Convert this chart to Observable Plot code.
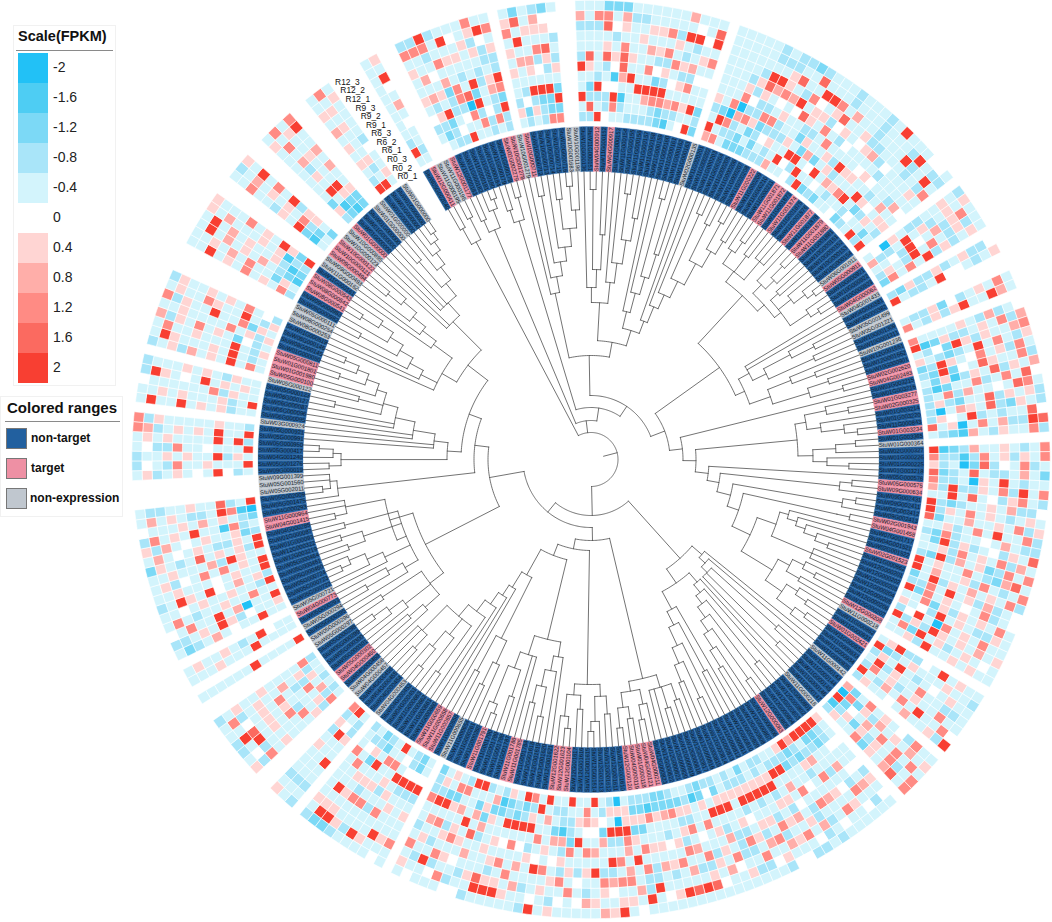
<!DOCTYPE html>
<html><head><meta charset="utf-8">
<script src="https://cdn.jsdelivr.net/npm/d3@7"></script>
<script src="https://cdn.jsdelivr.net/npm/@observablehq/plot@0.6"></script>
<style>
html,body{margin:0;padding:0;background:#fff;font-family:"Liberation Sans",Arial,sans-serif}
#wrap{position:relative;width:1052px;height:922px;overflow:hidden}
.box{position:absolute;background:#fff;border:1px solid #f1f1f1;box-sizing:border-box}
.t{position:absolute;font-weight:bold;color:#111;white-space:nowrap}
.ln{position:absolute;height:1px;background:#8a8a8a}
.sw{position:absolute}
</style></head><body><div id="wrap"></div>
<script>
const sampleLabels=["R0_1","R0_2","R0_3","R6_1","R6_2","R6_3","R9_1","R9_2","R9_3","R12_1","R12_2","R12_3"];
const scaleLevels=[-2,-1.6,-1.2,-0.8,-0.4,0,0.4,0.8,1.2,1.6,2];
const scaleColors=["#22c1f6","#4ecdf3","#7cd9f6","#a9e5f9","#d3f4fc","#ffffff","#ffd5d3","#ffaea9","#ff8b84","#fb6a60","#f83f32"];
const rangeNames=["non-target","target","non-expression"];
const rangeColors=["#22609f","#ee90a4","#c0c7cf"];
const levelCodes={a:-2,b:-1.6,c:-1.2,d:-0.8,e:-0.4,"0":0,"1":0.4,"2":0.8,"3":1.2,"4":1.6,"5":2};

// n=non-target, t=target, g=non-expression; clockwise from the sample labels
const leafTypes=["nt","gg","tnnnnnnntt","g","tnnnnn","gg","nntntnnnnnnnnnnn","g",
"nnnnnnnntnnnttntnntnttnnnnn","g","tnnnt","g","nn","gg","nn","g","nnnttnnttnnntn","g",
"nnnnnttnnnnttnnntnnnnnnnnt","g","nntnnnn","g","nnnnn","g",
"nnnnnt","nnnnnnnnn","nnnnnnnnn","ttttt","nnnnnnnn","ttt","nnnnn","tt","nnnn","t","nnn","g","ntttnnnnnn","g","nnn","gg",
"nttnnnn","gg","n","g","nt","g","nnnnnnnnnnnttnnn","ggg","nnnnnnn","g","nnnnn","g","ttttnnnn","ggg",
"nntttn","gg","ttt","gg","tnnn","gg","nnn","g"].join("");

const leafIds=("05G002040 12G000411 11G000195 11G000196 12G001177 11G000183 11G000182 11G000181 11G000180 11G000184 11G000179 11G000178 02G002279 10G001278 10G001279 10G000711 10G000712 10G000713 10G000714 10G000715 10G000716 10G001683 10G001196 "+
"10G000136 11G000151 04G000912 11G000152 04G000917 11G000153 11G000154 11G000155 11G000156 11G000157 11G000158 11G000159 11G000160 11G000161 11G000162 11G000163 02G000135 11G000201 11G000202 11G000203 11G000204 11G000205 11G000206 11G000207 11G000208 11G000222 11G000209 11G000210 11G000211 11G001871 11G001872 11G001873 11G001874 11G001875 11G001876 11G001877 11G001878 11G001879 11G001880 11G001881 10G000151 10G000152 10G000153 10G000154 06G001011 05G000911 10G000921 10G000922 10G000923 04G000062 04G001433 04G000381 04G000382 05G001499 05G001221 10G001309 10G001311 10G001236 12G001661 12G001662 10G000901 02G002620 04G002483 01G003215 01G003216 01G003277 02G000325 01G003214 01G003220 11G000843 01G003234 01G003365 01G000364 02G000327 "+
"01G000226 01G000225 01G003218 05G000576 05G000575 09G000634 09G002431 09G002411 09G002412 09G002413 02G001943 04G001458 07G001717 04G001521 02G001522 02G001523 01G000862 12G000201 12G000202 12G000203 12G000204 12G000205 12G000206 12G000207 12G000208 11G000218 11G000862 11G000931 01G002421 11G000932 11G000933 11G000934 11G000935 11G000142 11G000143 11G000144 11G000145 11G000146 11G000147 11G000218 "+
"12G000801 12G000802 12G000803 12G000804 12G000805 12G000083 12G000806 12G000807 12G000808 12G000809 12G000810 12G000811 12G000812 12G000813 12G000814 12G000815 12G000816 12G000817 12G000818 12G000819 12G000820 12G000821 12G000822 12G000823 04G000211 04G000121 01G000118 04G000119 12G000120 12G001610 12G001611 12G001612 12G001613 12G001614 12G001615 12G001616 12G001617 12G001104 12G001623 12G001622 12G001621 12G001620 12G001619 12G001618 11G001784 11G001785 11G001786 11G001787 11G001788 11G001789 11G001790 11G001791 11G000260 11G000261 "+
"11G000654 11G000655 11G000656 11G000657 11G000658 11G000659 11G000660 11G000661 11G000662 11G000663 04G000451 04G000452 04G000453 04G000454 04G000455 04G000456 04G000457 04G000458 04G000459 04G000460 05G000302 05G000301 05G000300 05G000299 05G000298 05G000297 05G000296 05G000295 05G000294 05G000293 04G000773 05G000721 05G000722 05G000723 05G000724 05G000460 05G000461 05G000464 12G003219 12G000322 01G000093 01G000087 "+
"04G000285 04G001415 11G000964 04G000293 05G001475 05G002009 05G002011 05G001560 09G001399 09G000019 05G001276 04G001240 05G000417 05G000950 05G000991 05G000921 03G000924 06G000095 06G000096 06G000087 06G000127 05G000123 05G000122 05G000100 01G001980 01G001801 05G000811 01G000050 08G000145 08G000146 01G000519 08G000253 08G000254 05G000111 09G000982 09G000983 08G000541 08G000542 08G000543 11G000161 11G000162 09G000493 09G000494 10G000121 10G000122 10G000123 10G000895").split(" ");

// inner ring (R0_1) to outer ring (R12_3), one row per expressed leaf
const heatRows=[
// first sliver
"e5deeeeeeeee","edee0e2e05e1",
// 4-13
"0ed0e1ee1e3d","ecd1d2e2ee3d","ddc5e1e0ed35","d0eddc2e3eed","5e0d33ee1e5e","ee3a4ede1e0e","e3d5c5eee1ee","dd0eedde1d13","e3dd21edd05e","dd5c35dd1e3e",
// 15-20
"e1dee1e1e31e","dc0dee2e5e4c","e1d5e12ee1ee","ddc5e0d3e12d","3cc5ed14e10c","3c5ce1ded00e",
// 23-38
"de5ee5deed2e","d4dce14eedee","5ed5deeeed3e","0dd0ed41e43c","e350b01ed0ec","edbe2443e12c","deee5e1eeede",
"dee5eeee1ede","de25e3e2e1ee","dd35c0d1e1ee","cc35d1d3e3ee","bd2e0e3e1dee","ed3e1d1de5e2","0e1e3d2ed50e","5e5ee0e1e0ee","cdcee0e3e54e",
// 40-66
"25ed1eeeeeee","3e5ceeeeeeee","ed3a3eeeeeee","cdd2a31deeee","cce3d0d1deee","cec1dd145edd","dcdc3de25ede","de0d3e0311dd","dd1dd1e2e4ed","2eedee05deec","e5e1ee4e3e4d",
"e05ecd1105ee","0d5c1de1e5ee","d5e2ee3d13ee","5e0ce3e04edd","ce5e1ed1e2ee","d0e1de0eeeee","ce2d5ee01eee","ed1e1ee1dddd","ee3e10e2deee","0e5ee1edeee5","cde5e0d0eeee",
"d0c1deeee5de","eed0eeeedd5e","5e1e2deeeee0","dce1e2e1d5d0","5ed1e0ee3ede",
// 68-72
"e0a1eddee1ed","2dde5e1de1e1","ee0d50e2d13e","d1ed5e3ed1de","c3e3e5d1de1e",
// 74,75
"dc1dd1de1dd0","5edde500ede1",
// 78,79
"edd1c0de1e3e","3ed1d15ee52e",
// 81-94
"3eeee1ed2de0","5bc1dde1e3d2","ed0c51d1ee23","1edcde5e3ed1","cd51e03e1d3e","dc5c0e41ee3d","ec1bd1e4d1e2","dbcee3de3e40","de3d2ee0e43e","d1dcee4d1e1d","dae21e4dc1ed","d10e5dedee40","4e1ae3e2dd54","edcb2ed1ee3d",
// 96-120
"5bcd2ee1ede3","3ddbd3e1d1e3","1deac4d0e3de","4cde4edde2ec","3ddea1e5edee","2d5dd1e3d5e3","ee5e4e0d13ed","5dcdee1e2dd0","5d1e3e1ede1e","4cee2ee1e3d1","ee1de3e5ee3d","dc3dee0e2edd","ec5d1de0d1e4","ee1d3e1e3d2e","dc5d2e1cd3e3",
"5e1ee3edc24e","5e2ee1d3ede3","ce5d1e2e1e3d","dd3e5e1d2de0","5c3e1e0e3de0","ee3c1d1e1e3e","1e0d5e1edd1e","d05ea3e1e3ee","5d1d51e1e2e1","e3c5e1de1e0e","ee1d5ee1e1ee",
// 123-129
"e15dd0e5e1ee","5cde1eee1eed","d1e5ede0e1ee","e5d1ee3eedde","d3e1de1ee3ee","5ed2e3e5ee30","d1ee0e2ee1d5",
// 131-135
"2ce3e1e0d3ee","a3c1d2e1e2e1","5c0e2e3e3e3e","bd1c1d1e3de3","d1ee3c1e24e3",
// 137-191
"1ee0ee0d1e0e","5dd0ee0e2ede","5ccee2ed3e0e","5cdeede0e1ee","5ed2e3e1e3ee","2dc1dee2ee0e","5cdee0e3eded","1dcee3edd2de","ed5e2e0e1e0d","ed5ee1d2e3ed","de15d1e1e1e0",
"dd15eed3d2e0","ee15de1e3e1d","cd15ee1d2e0e","ed15d0e1e3de","dd1ee1d3dede","ee15eeddde1e","dc15ed2e30ee","d0e5e1e1e2ee","cc1e3eed1e0e","dbeee0e3d14e","ed1d3e2ede5e","ec1d1d3e2e4e","dc3ee1e3ee5e","cc2ed0e1de1e","cc1ee1e2ee0e",
"db3ee1edd5ee","dc1ce3e3dd5e","dc1c1e5ee2e0","e11532e23e1e","a1a5de3e3e15","d1e5de5d20e1","ed0c2eed31e2","5e10e2e5ee1e","e320e3e1ed2e","ee1e5eed0e0e","5eddc3e1e3ee","eddb2d1d3e0e","edec2e0e1ed1","5e2ee1e3e1ee","e5ee3e05ee05",
"3d15ed1eeded","5cd5e0e2e2ee","edc5e3ee3e1e","1cd5e0e3e15e","dbcee1e1d15e","e2c1ee1ee45e","de1c2deee1ed","5ec2e4e2ede0","5eee5e1e0ed0","d3e2e13e1e3e","e3c1ed1e3d0e","1ec5e3ede5ee","e1d5e2e1ede0","cdd3eede3e1e",
// 193-202
"ee05de1ee3ee","cc05deeee1e0","dd05de1ee5ee","e0e5e1e3ee1e","5e3e1dedee5e","ee3ee1e3eede","dce5e1d3ee1d","cd1ce1e1e15c","ed0e3ee5e15c","dee3eeeee1ed",
// 204-206
"edd1ee5eeded","5e05eeeeedee","3d1de1eeede1",
// 209-215
"e3d1eee1e3d1","dd1e3eeeed0e","e2eed3e1e5ed","de3ee1e1e45d","e1dde3e1e0ee","ed1e2ee1ed3e","d3eeee1ee1ed",
// 218, 220-221
"5eeee5eeeeee","eeee5eee1eee","ee05ede1ee1e",
// 223-238
"ee5ee0e2edce","1ee0d15e1edd","5eea2e5ee3e0","ee3ee1eede3e","5dee1ee1e0ee","d1e2e05e15ed","5ee1e0eee1ee","5e1e3e3e0d1e","ee15d2eee1ee","5d1e1e4ede1c","5e1dde1e0e2e","dc1ee1e0e2d1","ed3bee5e1e3d","cde1e2e1eee0","ab35edde1e2e","5ed4ee1eedde",
// 242-248
"ed05e0e1ed1e","5eee1ee3de0d","e1d5ee1e1eed","5eee0ee3dd0e","d5e5eeee1e1e","5ee5e1e1ed23","dee1eeeee1d3",
// 250-254
"eed1e1e5ee5e","5ed1eee1e1ee","ee1d3eeeeee0","e1e1e5e0e15d","ee1de1e1eeed",
// 256-263
"e3e5e1e2d1ed","ede5e1eee15e","1de5eee1ee3e","ed0ce1e3e1d2","1d1e3eeee1ee","e1c3ee5ee1d3","1de5ee13ee1e","d0e3e1e1ee1d",
// 267-272
"d3e1e3e1e5ee","e1cee3e2e1ee","bcde2e1e2e5e","cbd1ee1e2e5e","ddb1e1eee2e1","5c15e1e3eee1",
// 275-277
"ebc5e1dee3ee","ecd3e1e1e2ed","ce11d5e3e5e1",
// 280-283
"d1ceeeeeee1e","cbe5e1d2e3e3","bc15eee1ee1e","cc1ee2e2ee53",
// 286-288
"5de1e1e2e1ee","5ed1eee1e1e3","e1ee0deeee1e"
].map(s=>s.padEnd(12,"e").slice(0,12));

// tree: [node radius, ...children]; a number is that many tips on the node
const treeA=[246,[264,2],[270,2]];
const treeB=[249,[262,2],[268,1,[278,2]]];
const treeC=[249,[262,2],[272,2]];
const treeTL=[170,1,[186,1,[200,[268,2],[214,1,[232,[262,2],[250,[274,2],1]]]]]];
const treeU=[157,[172,1,[190,[270,2],[225,1,1]]],[178,1,[198,1,[222,[268,2],[245,1,1]]]]];
const treeV=[135,[152,1,[172,1,[190,[270,2],[215,1,1]]]],[148,1,[165,1,[180,1,[198,[268,2],[222,[262,2],[240,[270,2],[255,1,1]]]]]]]];
const treeQ1=[223,[236,[252,1,[265,2]],[256,1,1],[260,3]],[232,[244,1,[256,[272,2],1]],[240,[250,2],[256,1,[270,1,[278,2]]],[262,1,[272,2]]]]];
const treeQ2=[168,[180,2,[195,[225,1,[250,2]],[245,2]]],[190,[215,1,[240,2]],[228,[250,1,1],[262,2]]]];
const treeN207=[207,[218,[240,1,[262,2]],[232,1,[255,1,[268,2]]]],[222,[245,[265,2],1],[236,1,[258,2]]]];
const treeLad=[118,1,[130,[250,[262,2],1],[144,[255,[268,2],1],[156,[252,[265,2]],[176,[196,[205,1,[215,1,[225,1,[238,1,[252,2]]]]],[240,3]],[212,[225,[238,1,[252,2]],[240,2]],[232,[245,1,[258,2]],[252,[265,2],1]]]]]]]];
const treeK=[133,[146,1,[154,1,[162,[250,2],[262,2],1]]],[150,[162,1,[172,1,[182,[262,2],[195,1,[208,[270,2],[225,1,[245,2]]]]]]],[170,1,[185,[240,2],[205,1,[222,[262,2],[240,2]]]]]]];
const treeB1=[225,[238,[255,2],[260,1,1],2],[235,[250,1,[265,2]],[250,[262,2],[270,2]]]];
const treeB2=[225,[237,[255,2],[262,1,[272,2]]],[236,[250,2],[258,[270,2],1]]];
const treeLLa=[185,[200,1,[215,1,[232,[262,2],[250,1,1]]]],[205,2,[222,[250,1,1],[262,[272,2],1]]]];
const treeLLb=[132,[200,[225,1,[250,2]],[240,1,1]],[150,1,[162,1,[176,1,[190,1,[205,[262,2],[225,1,[245,[268,2],1]],[240,[258,2],2]]]]]]];
const treeLB=[186,[203,[222,1,[240,2]],[235,1,[252,1,[268,2]]],[250,1,1]],[210,[200,[215,1,[232,[258,2],1]],[228,1,[245,1,[262,[272,2],1]]],[240,[258,2],[262,2]],[255,2]],[250,[262,2],2]]];
const treeX1=[255,1,[262,[270,2],2]];
const tree144=[144,[250,[262,2],[258,1,[272,2]]],[158,2,[180,2,[200,2,[215,[262,2],[240,2],[225,1,[238,[265,2],[250,1,[265,2]]]]]]]]];
const tree155=[155,[172,1,[190,1,[205,1,[220,[262,2],[235,1,[250,[270,2],1]]]]],[195,1,[212,1,[228,1,[245,[262,2],1]]]]],[195,2,[212,3,[228,[262,2],[244,1,[258,1,[268,1,[276,2]]]]]]]];
const tree=[27,treeA,[39,treeB,[52,treeC,[64,[104,treeTL,[119,treeU,treeV]],[79,[158,treeQ1,treeQ2],[92,1,[105,treeN207,treeLad]]]]]],
 [56,treeK,[68,[81,treeB1,[91,treeB2,[103,treeLLa,treeLLb]]],[103,treeLB,[117,treeX1,[130,tree144,tree155]]]]]];

// polar layout
const startDeg=-30.3, stepDeg=1.23, rHeat=338, ringW=10.1, rBand0=288, rBand1=333, rTip=288;
const px=(deg,r)=>r*Math.sin(deg*Math.PI/180), py=(deg,r)=>-r*Math.cos(deg*Math.PI/180);
const leafMid=i=>startDeg+(i+0.5)*stepDeg;
const exprCount=[...leafTypes].filter(c=>c!=="g").length;
if(exprCount!==heatRows.length) throw new Error("heat rows "+heatRows.length+" vs "+exprCount+" leaves "+leafTypes.length);

// rings of polygons
function cellPts(id,a0,a1,r0,r1,v){const m=[];const n=2;
 for(let k=0;k<=n;k++)m.push([a0+(a1-a0)*k/n,r0]);
 for(let k=n;k>=0;k--)m.push([a0+(a1-a0)*k/n,r1]);
 m.push([a0,r0]);return m.map(([a,r])=>({id,v,x:px(a,r),y:py(a,r)}));}
const heatPts=[],bandPts=[],bandText=[];
let h=0;const typeName={n:"non-target",t:"target",g:"non-expression"};
[...leafTypes].forEach((c,i)=>{
 const a0=startDeg+i*stepDeg,a1=a0+stepDeg;
 bandPts.push(...cellPts("b"+i,a0,a1,rBand0,rBand1,typeName[c]));
 const mid=leafMid(i),norm=((mid%360)+360)%360;
 bandText.push({x:px(mid,(rBand0+rBand1)/2),y:py(mid,(rBand0+rBand1)/2),label:"StuW"+(leafIds[i]||"01G000000"),rot:norm<180?norm-90:norm+90});
 if(c!=="g"){const row=heatRows[h++];
  [...row].forEach((ch,j)=>heatPts.push(...cellPts("h"+i+"_"+j,a0,a1,rHeat+j*ringW,rHeat+(j+1)*ringW,levelCodes[ch])));}
});

// tree to segments
const treeLines=[];let tipIndex=0,segId=0;
function addPath(pts){const id=segId++;pts.forEach(([a,r])=>treeLines.push({id,x:px(a,r),y:py(a,r)}));}
function walk(node){
 const r=node[0],kids=[];
 for(const c of node.slice(1)){
  if(typeof c==="number"){for(let k=0;k<c;k++){kids.push({a:leafMid(tipIndex++),r:rTip});}}
  else kids.push(walk(c));
 }
 const a0=kids[0].a,a1=kids[kids.length-1].a,mid=(a0+a1)/2;
 const arc=[];const n=Math.max(2,Math.ceil((a1-a0)));
 for(let k=0;k<=n;k++)arc.push([a0+(a1-a0)*k/n,r]);
 addPath(arc);
 kids.forEach(k=>addPath([[k.a,r],[k.a,k.r]]));
 return {a:mid,r};
}
const rootInfo=walk(tree);
addPath([[rootInfo.a,13],[rootInfo.a,27]]);
if(tipIndex!==leafTypes.length) throw new Error("tips "+tipIndex+" vs "+leafTypes.length);

const labelPts=sampleLabels.map((s,i)=>({s,x:px(-31.5,332+i*10.05),y:py(-31.5,332+i*10.05)}));

const chart=Plot.plot({
 width:1052,height:922,margin:0,
 x:{domain:[-590.5,461.5],range:[0,1052],axis:null},
 y:{domain:[-459,463],range:[0,922],axis:null},
 color:{type:"ordinal",domain:[...scaleLevels,...rangeNames],range:[...scaleColors,...rangeColors]},
 marks:[
  Plot.line(heatPts,{x:"x",y:"y",z:"id",fill:"v",stroke:"#ffffff",strokeWidth:0.6,curve:"linear"}),
  Plot.line(bandPts,{x:"x",y:"y",z:"id",fill:"v",stroke:"v",strokeWidth:0.2,curve:"linear"}),
  Plot.text(bandText,{x:"x",y:"y",text:"label",rotate:"rot",fontSize:5.8,fill:"#101a28",fontFamily:"Liberation Sans",textAnchor:"middle"}),
  Plot.line(treeLines,{x:"x",y:"y",z:"id",stroke:"#444444",strokeWidth:0.75,curve:"linear"}),
  Plot.text(labelPts,{x:"x",y:"y",text:"s",textAnchor:"end",fontSize:8.4,fill:"#111",fontFamily:"Liberation Sans"})
 ]
});
const wrap=document.getElementById("wrap");wrap.appendChild(chart);

// legends
function el(cls,css,txt){const d=document.createElement("div");d.className=cls;d.style.cssText=css;if(txt!=null)d.textContent=txt;wrap.appendChild(d);return d;}
el("box","left:13px;top:25px;width:103px;height:361px");
el("t","left:18px;top:28px;font-size:14.5px","Scale(FPKM)");
el("ln","left:16px;top:50px;width:97px");
scaleLevels.forEach((v,i)=>{
 el("sw",`left:18px;top:${53+i*30}px;width:30px;height:30px;background:${scaleColors[i]}`);
 el("t",`left:53px;top:${59+i*30}px;font-size:14px;font-weight:normal;color:#222`,String(v));
});
el("box","left:0;top:396px;width:123px;height:121px");
el("t","left:7px;top:399px;font-size:15px","Colored ranges");
el("ln","left:5px;top:421px;width:115px");
rangeNames.forEach((n,i)=>{
 el("sw",`left:6px;top:${428+i*30}px;width:21px;height:21px;box-sizing:border-box;border:1px solid #777;background:${rangeColors[i]}`);
 el("t",`left:${i==2?30:31}px;top:${431+i*30}px;font-size:12px`,n);
});
</script></body></html>
